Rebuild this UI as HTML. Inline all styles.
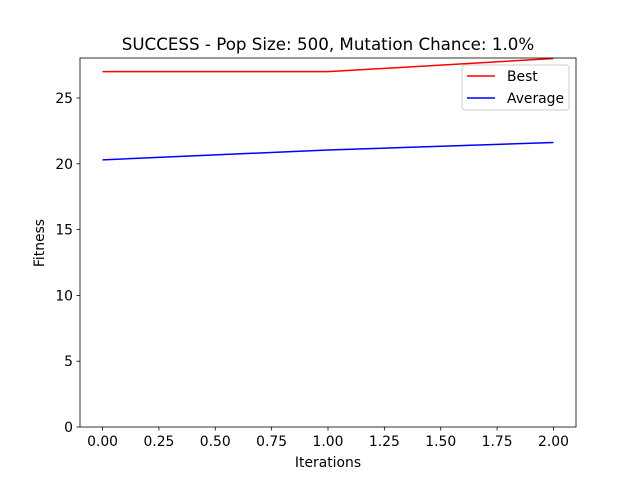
<!DOCTYPE html>
<html><head><meta charset="utf-8"><style>
body{margin:0;background:#fff;}
svg text{font-family:"DejaVu Sans","Liberation Sans",sans-serif;fill:#000;}
</style></head><body>
<svg id="chart" width="640" height="480" xmlns="http://www.w3.org/2000/svg">
<rect width="640" height="480" fill="#fff"/>
<text x="328" y="50" font-size="16.7" text-anchor="middle">SUCCESS - Pop Size: 500, Mutation Chance: 1.0%</text>
<g id="plot"></g>
<text x="328" y="467" font-size="13.9" text-anchor="middle">Iterations</text>
<text x="44" y="243" font-size="13.9" text-anchor="middle" transform="rotate(-90 44 243)">Fitness</text>
</svg>
<script>
const iterations=[0,1,2];
const bestValues=[27,27,28];
const avgValues=[20.3,21.05,21.62];
const xTicks=[0,0.25,0.5,0.75,1.0,1.25,1.5,1.75,2.0];
const xTickLabels=["0.00","0.25","0.50","0.75","1.00","1.25","1.50","1.75","2.00"];
const yTicks=[0,5,10,15,20,25];
const NS="http://www.w3.org/2000/svg";
const L=80,R=576,T=58,B=427;
const xMin=-0.1,xMax=2.1,yMin=0,yMax=28.04;
function sx(v){return L+(v-xMin)/(xMax-xMin)*(R-L);}
function sy(v){return B-(v-yMin)/(yMax-yMin)*(B-T);}
const g=document.getElementById('plot');
function mk(t,a){const e=document.createElementNS(NS,t);for(const k in a)e.setAttribute(k,a[k]);g.appendChild(e);return e;}
const clip=mk('clipPath',{id:'cp'});
const cr=document.createElementNS(NS,'rect');cr.setAttribute('x',L);cr.setAttribute('y',T);cr.setAttribute('width',R-L);cr.setAttribute('height',B-T);clip.appendChild(cr);
function line(vals,color,name){
  const p=mk('polyline',{points:vals.map((v,i)=>sx(iterations[i])+','+sy(v)).join(' '),fill:'none',stroke:color,'stroke-width':1.5,'clip-path':'url(#cp)'});
  
  
}
line(bestValues,'#ff0000','best-line');
line(avgValues,'#0000ff','average-line');
const frame=mk('rect',{x:L,y:T,width:R-L,height:B-T,fill:'none',stroke:'#000','stroke-width':0.8});


xTicks.forEach((v,i)=>{
  const x=sx(v);
  mk('line',{x1:x,x2:x,y1:B,y2:B+3.5,stroke:'#000','stroke-width':0.8});
  const t=mk('text',{x:x,y:B+19,'font-size':13.9,'text-anchor':'middle'});t.textContent=xTickLabels[i];
  
  
});
yTicks.forEach(v=>{
  const y=sy(v);
  mk('line',{x1:L-3.5,x2:L,y1:y,y2:y,stroke:'#000','stroke-width':0.8});
  const t=mk('text',{x:L-7,y:y+5,'font-size':13.9,'text-anchor':'end'});t.textContent=v;
  
  
});
const lg=mk('g',{});


const lb=document.createElementNS(NS,'rect');
[['x',462],['y',65],['width',107],['height',45],['rx',3],['fill','#fff'],['fill-opacity',0.8],['stroke','#ccc']].forEach(a=>lb.setAttribute(a[0],a[1]));
lg.appendChild(lb);
[['Best','#ff0000',76],['Average','#0000ff',98]].forEach(([n,c,y])=>{
  const l=document.createElementNS(NS,'line');
  [['x1',467],['x2',495],['y1',y],['y2',y],['stroke',c],['stroke-width',1.5]].forEach(a=>l.setAttribute(a[0],a[1]));
  lg.appendChild(l);
  const t=document.createElementNS(NS,'text');
  t.setAttribute('x',507);t.setAttribute('y',y+5);t.setAttribute('font-size',13.9);t.textContent=n;
  
  
  lg.appendChild(t);
});
</script>
</body></html>
